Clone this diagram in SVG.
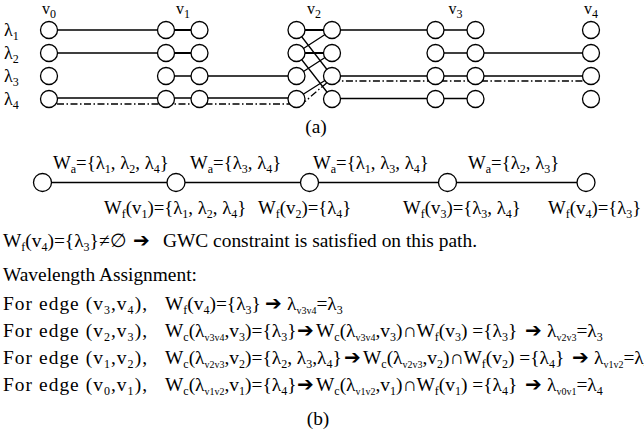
<svg xmlns="http://www.w3.org/2000/svg" width="644" height="438" viewBox="0 0 644 438">
<style>
text{font-family:"Liberation Serif","DejaVu Serif",serif;font-size:19.4px;fill:#000}
.t{font-size:18px}
.v{font-size:16px}
.b{font-size:18.8px}
.s{font-size:12px;baseline-shift:-4px}
.ss{font-size:10px;baseline-shift:-4px}
.ar{font-family:"DejaVu Sans",sans-serif;font-size:20px}
.n{fill:#fff;stroke:#000;stroke-width:1.3}
.l{stroke:#000;stroke-width:1.3;fill:none}
.k{stroke:#000;stroke-width:2.2;fill:none}
.dd{stroke:#000;stroke-width:1.3;fill:none;stroke-dasharray:7 2.5 1.5 2.5}
</style>
<g id="connectors">
<path class="l" d="M49 30H166M332 30H435.5H475.5"/>
<path class="k" d="M166 30H199.5M296.5 30H332"/>
<path class="l" d="M49 53H166M435.5 53H591"/>
<path class="k" d="M166 53H199.5M296.5 53H332"/>
<path class="l" d="M166 76H296.5M332 76H591"/>
<path class="l" d="M49 98H296.5M332 98.5H475.5"/>
<path class="l" d="M296.5 30L332 76M332 30L296.5 53M296.5 53L332 98.5M332 53L296.5 76M332 76L296.5 98.5"/>
<path class="dd" d="M57 104H298Q304 104 310 97L329 81H583"/>
<path class="l" d="M42.5 182.5H586"/>
</g>
<g id="v0"><circle class="n" cx="49" cy="30" r="8.5"/><circle class="n" cx="49" cy="53" r="8.5"/><circle class="n" cx="49" cy="76" r="8.5"/><circle class="n" cx="49" cy="99" r="8.5"/><text class="v" x="49" y="13.5" text-anchor="middle">v<tspan class="s">0</tspan></text></g>
<g id="v1"><circle class="n" cx="166" cy="30" r="8.5"/><circle class="n" cx="166" cy="53" r="8.5"/><circle class="n" cx="166" cy="76" r="8.5"/><circle class="n" cx="166" cy="99" r="8.5"/><circle class="n" cx="199.5" cy="30" r="8.5"/><circle class="n" cx="199.5" cy="53" r="8.5"/><circle class="n" cx="199.5" cy="76" r="8.5"/><circle class="n" cx="199.5" cy="99" r="8.5"/><text class="v" x="183" y="13.5" text-anchor="middle">v<tspan class="s">1</tspan></text></g>
<g id="v2"><circle class="n" cx="296.5" cy="30" r="8.5"/><circle class="n" cx="296.5" cy="53" r="8.5"/><circle class="n" cx="296.5" cy="76" r="8.5"/><circle class="n" cx="296.5" cy="99" r="8.5"/><circle class="n" cx="332" cy="30" r="8.5"/><circle class="n" cx="332" cy="53" r="8.5"/><circle class="n" cx="332" cy="76" r="8.5"/><circle class="n" cx="332" cy="99" r="8.5"/><text class="v" x="314" y="13.5" text-anchor="middle">v<tspan class="s">2</tspan></text></g>
<g id="v3"><circle class="n" cx="435.5" cy="30" r="8.5"/><circle class="n" cx="435.5" cy="53" r="8.5"/><circle class="n" cx="435.5" cy="76" r="8.5"/><circle class="n" cx="435.5" cy="99" r="8.5"/><circle class="n" cx="475.5" cy="30" r="8.5"/><circle class="n" cx="475.5" cy="53" r="8.5"/><circle class="n" cx="475.5" cy="76" r="8.5"/><circle class="n" cx="475.5" cy="99" r="8.5"/><text class="v" x="455.5" y="13.5" text-anchor="middle">v<tspan class="s">3</tspan></text></g>
<g id="v4"><circle class="n" cx="591" cy="30" r="8.5"/><circle class="n" cx="591" cy="53" r="8.5"/><circle class="n" cx="591" cy="76" r="8.5"/><circle class="n" cx="591" cy="99" r="8.5"/><text class="v" x="591" y="13.5" text-anchor="middle">v<tspan class="s">4</tspan></text></g>
<g id="wavelengths">
<text class="t" x="4" y="36">λ<tspan class="s">1</tspan></text>
<text class="t" x="4" y="59">λ<tspan class="s">2</tspan></text>
<text class="t" x="4" y="82">λ<tspan class="s">3</tspan></text>
<text class="t" x="4" y="105">λ<tspan class="s">4</tspan></text>
<text x="316" y="133" text-anchor="middle">(a)</text>
</g>
<g id="p0"><circle class="n" cx="42.5" cy="182.5" r="9"/></g>
<g id="p1"><circle class="n" cx="176" cy="182.5" r="9"/></g>
<g id="p2"><circle class="n" cx="309.5" cy="182.5" r="9"/></g>
<g id="p3"><circle class="n" cx="447.5" cy="182.5" r="9"/></g>
<g id="p4"><circle class="n" cx="586" cy="182.5" r="9"/></g>
<g id="labels-b">
<text class="b" x="53" y="169">W<tspan class="s">a</tspan><tspan>={λ</tspan><tspan class="s">1</tspan><tspan>, λ</tspan><tspan class="s">2</tspan><tspan>, λ</tspan><tspan class="s">4</tspan><tspan>}</tspan></text>
<text class="b" x="190" y="169">W<tspan class="s">a</tspan><tspan>={λ</tspan><tspan class="s">3</tspan><tspan>, λ</tspan><tspan class="s">4</tspan><tspan>}</tspan></text>
<text class="b" x="313" y="169">W<tspan class="s">a</tspan><tspan>={λ</tspan><tspan class="s">1</tspan><tspan>, λ</tspan><tspan class="s">3</tspan><tspan>, λ</tspan><tspan class="s">4</tspan><tspan>}</tspan></text>
<text class="b" x="468" y="169">W<tspan class="s">a</tspan><tspan>={λ</tspan><tspan class="s">2</tspan><tspan>, λ</tspan><tspan class="s">3</tspan><tspan>}</tspan></text>
<text class="b" x="104" y="214">W<tspan class="s">f</tspan><tspan>(v</tspan><tspan class="s">1</tspan><tspan>)={λ</tspan><tspan class="s">1</tspan><tspan>, λ</tspan><tspan class="s">2</tspan><tspan>, λ</tspan><tspan class="s">4</tspan><tspan>}</tspan></text>
<text class="b" x="258" y="214">W<tspan class="s">f</tspan><tspan>(v</tspan><tspan class="s">2</tspan><tspan>)={λ</tspan><tspan class="s">4</tspan><tspan>}</tspan></text>
<text class="b" x="403" y="214">W<tspan class="s">f</tspan><tspan>(v</tspan><tspan class="s">3</tspan><tspan>)={λ</tspan><tspan class="s">3</tspan><tspan>, λ</tspan><tspan class="s">4</tspan><tspan>}</tspan></text>
<text class="b" x="548" y="214">W<tspan class="s">f</tspan><tspan>(v</tspan><tspan class="s">4</tspan><tspan>)={λ</tspan><tspan class="s">3</tspan><tspan>}</tspan></text>
</g>
<g id="assignment">
<text x="3" y="247">W<tspan class="s">f</tspan><tspan>(v</tspan><tspan class="s">4</tspan><tspan>)={λ</tspan><tspan class="s">3</tspan><tspan>}≠∅</tspan></text>
<text class="ar" x="133" y="247">➔</text>
<text x="163" y="247">GWC constraint is satisfied on this path.</text>
<text x="3" y="281">Wavelength Assignment:</text>

<text x="3" y="310" textLength="144" lengthAdjust="spacing">For edge (v<tspan class="s">3</tspan><tspan>,v</tspan><tspan class="s">4</tspan><tspan>),</tspan></text>
<text x="165" y="310">W<tspan class="s">f</tspan><tspan>(v</tspan><tspan class="s">4</tspan><tspan>)={λ</tspan><tspan class="s">3</tspan><tspan>}</tspan></text>
<text class="ar" x="265" y="310">➔</text>
<text x="287" y="310">λ<tspan class="ss">v3v4</tspan><tspan>=λ</tspan><tspan class="s">3</tspan></text>

<text x="3" y="337" textLength="144" lengthAdjust="spacing">For edge (v<tspan class="s">2</tspan><tspan>,v</tspan><tspan class="s">3</tspan><tspan>),</tspan></text>
<text x="165" y="337">W<tspan class="s">c</tspan><tspan>(λ</tspan><tspan class="ss">v3v4</tspan><tspan>,v</tspan><tspan class="s">3</tspan><tspan>)={λ</tspan><tspan class="s">3</tspan><tspan>}</tspan></text>
<text class="ar" x="297" y="337">➔</text>
<text x="316" y="337">W<tspan class="s">c</tspan><tspan>(λ</tspan><tspan class="ss">v3v4</tspan><tspan>,v</tspan><tspan class="s">3</tspan><tspan>)∩W</tspan><tspan class="s">f</tspan><tspan>(v</tspan><tspan class="s">3</tspan><tspan>) ={λ</tspan><tspan class="s">3</tspan><tspan>}</tspan></text>
<text class="ar" x="525" y="337">➔</text>
<text x="547" y="337">λ<tspan class="ss">v2v3</tspan><tspan>=λ</tspan><tspan class="s">3</tspan></text>

<text x="3" y="364" textLength="144" lengthAdjust="spacing">For edge (v<tspan class="s">1</tspan><tspan>,v</tspan><tspan class="s">2</tspan><tspan>),</tspan></text>
<text x="165" y="364">W<tspan class="s">c</tspan><tspan>(λ</tspan><tspan class="ss">v2v3</tspan><tspan>,v</tspan><tspan class="s">2</tspan><tspan>)={λ</tspan><tspan class="s">2</tspan><tspan>, λ</tspan><tspan class="s">3</tspan><tspan>,λ</tspan><tspan class="s">4</tspan><tspan>}</tspan></text>
<text class="ar" x="344" y="364">➔</text>
<text x="363" y="364">W<tspan class="s">c</tspan><tspan>(λ</tspan><tspan class="ss">v2v3</tspan><tspan>,v</tspan><tspan class="s">2</tspan><tspan>)∩W</tspan><tspan class="s">f</tspan><tspan>(v</tspan><tspan class="s">2</tspan><tspan>) ={λ</tspan><tspan class="s">4</tspan><tspan>}</tspan></text>
<text class="ar" x="572" y="364">➔</text>
<text x="594" y="364">λ<tspan class="ss">v1v2</tspan><tspan>=λ</tspan><tspan class="s">4</tspan></text>

<text x="3" y="391" textLength="144" lengthAdjust="spacing">For edge (v<tspan class="s">0</tspan><tspan>,v</tspan><tspan class="s">1</tspan><tspan>),</tspan></text>
<text x="165" y="391">W<tspan class="s">c</tspan><tspan>(λ</tspan><tspan class="ss">v1v2</tspan><tspan>,v</tspan><tspan class="s">1</tspan><tspan>)={λ</tspan><tspan class="s">4</tspan><tspan>}</tspan></text>
<text class="ar" x="297" y="391">➔</text>
<text x="316" y="391">W<tspan class="s">c</tspan><tspan>(λ</tspan><tspan class="ss">v1v2</tspan><tspan>,v</tspan><tspan class="s">1</tspan><tspan>)∩W</tspan><tspan class="s">f</tspan><tspan>(v</tspan><tspan class="s">1</tspan><tspan>) ={λ</tspan><tspan class="s">4</tspan><tspan>}</tspan></text>
<text class="ar" x="525" y="391">➔</text>
<text x="547" y="391">λ<tspan class="ss">v0v1</tspan><tspan>=λ</tspan><tspan class="s">4</tspan></text>

<text x="318" y="425" text-anchor="middle">(b)</text>
</g>
</svg>
